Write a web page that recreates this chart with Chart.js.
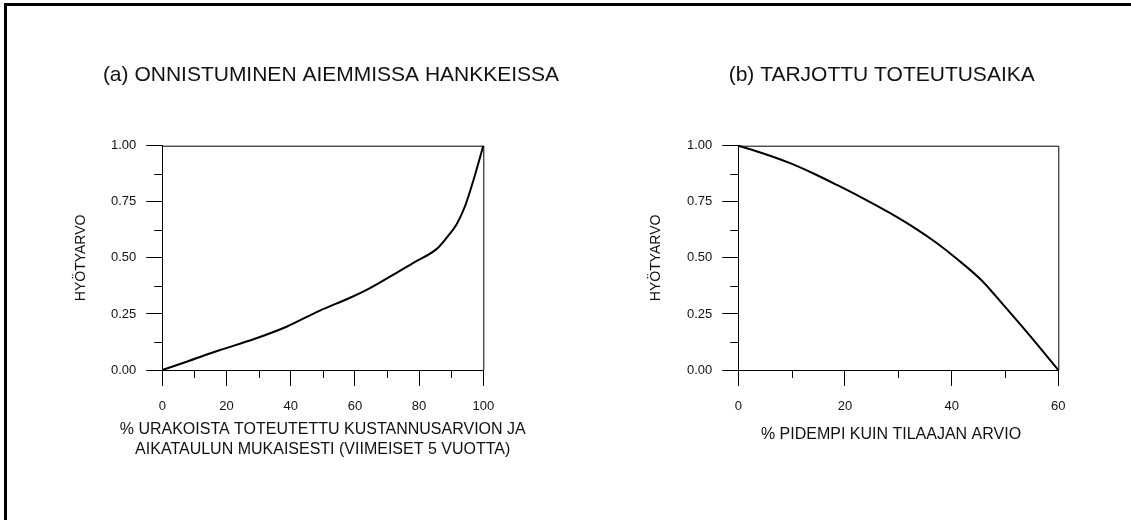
<!DOCTYPE html>
<html>
<head>
<meta charset="utf-8">
<script src="https://cdn.jsdelivr.net/npm/chart.js@4.4.1/dist/chart.umd.min.js"></script>
<style>
  html, body { margin: 0; padding: 0; background: #fff; }
  #page { position: relative; width: 1131px; height: 520px; overflow: hidden; background: #fff; }
  #frame { position: absolute; left: 4px; top: 3px; width: 1300px; height: 700px;
           border-top: 3px solid #000; border-left: 3px solid #000; }
  #chartA { position: absolute; left: 0; top: 0; }
  #chartB { position: absolute; left: 632px; top: 0; }
</style>
</head>
<body>
<div id="page">
  <div id="frame"></div>
  <canvas id="chartA" width="662" height="520"></canvas>
  <canvas id="chartB" width="499" height="520"></canvas>
</div>
<script>
// (a) utility vs. share of past contracts delivered on budget and schedule
const successPct = [0, 7.6, 18, 28.4, 38.7, 49.1, 58.5, 64.7, 72, 78.2, 85.5, 88.6, 91.7, 94.3, 96.9, 100];
const successUtility = [0, 0.037, 0.089, 0.137, 0.193, 0.265, 0.322, 0.365, 0.425, 0.478, 0.540, 0.590, 0.650, 0.730, 0.845, 1.0];

// (b) utility vs. offered duration compared with the client's estimate
const overrunPct = [0, 4.7, 9.7, 14.1, 18.4, 23.4, 28.4, 33.4, 37.2, 40.9, 45.6, 49.7, 54.7, 60];
const overrunUtility = [1.0, 0.965, 0.922, 0.876, 0.826, 0.765, 0.700, 0.628, 0.566, 0.497, 0.400, 0.290, 0.152, 0];

// Axis ranges and tick spacing
const yMajorStep = 0.25;
const yMinorTicks = [0.125, 0.375, 0.625, 0.875];
const xMaxA = 100, xStepA = 20, xMinorA = [10, 30, 50, 70, 90];
const xMaxB = 60, xStepB = 20, xMinorB = [10, 30, 50];

// Text
const titleA = '(a) ONNISTUMINEN AIEMMISSA HANKKEISSA';
const titleB = '(b) TARJOTTU TOTEUTUSAIKA';
const xTitleA = ['% URAKOISTA TOTEUTETTU KUSTANNUSARVION JA', 'AIKATAULUN MUKAISESTI (VIIMEISET 5 VUOTTA)'];
const xTitleB = ['% PIDEMPI KUIN TILAAJAN ARVIO'];
const yTitle = 'HYÖTYARVO';

const FONT = '"Liberation Sans", Arial, Helvetica, sans-serif';
const INK = '#111';

Chart.defaults.font.family = FONT;
Chart.defaults.color = INK;

// Frame on top/right of the plot area plus the short minor tick marks
const boxAndMinorTicks = {
  id: 'boxAndMinorTicks',
  afterDraw(chart, args, opts) {
    const { ctx, chartArea: a, scales } = chart;
    ctx.save();
    ctx.strokeStyle = '#000';
    ctx.lineWidth = 1;
    ctx.beginPath();
    ctx.moveTo(a.left, a.top + 0.5);
    ctx.lineTo(a.right + 0.5, a.top + 0.5);
    ctx.lineTo(a.right + 0.5, a.bottom);
    ctx.stroke();
    ctx.beginPath();
    for (const v of opts.yMinor) {
      const py = Math.round(scales.y.getPixelForValue(v)) + 0.5;
      ctx.moveTo(a.left - 8, py);
      ctx.lineTo(a.left, py);
    }
    for (const v of opts.xMinor) {
      const px = Math.round(scales.x.getPixelForValue(v)) + 0.5;
      ctx.moveTo(px, a.bottom);
      ctx.lineTo(px, a.bottom + 8);
    }
    ctx.stroke();
    ctx.restore();
  }
};

// Panel heading and the (possibly wide, multi-line) x-axis caption
const captions = {
  id: 'captions',
  afterDraw(chart, args, opts) {
    const { ctx } = chart;
    ctx.save();
    ctx.fillStyle = INK;
    ctx.textAlign = 'center';
    ctx.textBaseline = 'middle';
    ctx.font = `21px ${FONT}`;
    ctx.fillText(opts.heading, opts.headingX, opts.headingY);
    ctx.font = `16px ${FONT}`;
    opts.caption.forEach((line, i) => {
      ctx.fillText(line, opts.captionX, opts.captionY + i * opts.captionLine);
    });
    ctx.restore();
  }
};

function makeChart(canvasId, cfg) {
  const points = cfg.xs.map((x, i) => ({ x: x, y: cfg.ys[i] }));
  return new Chart(document.getElementById(canvasId), {
    type: 'line',
    data: {
      datasets: [{
        data: points,
        borderColor: '#000',
        borderWidth: 2,
        pointRadius: 0,
        cubicInterpolationMode: 'monotone',
        fill: false,
        clip: false
      }]
    },
    plugins: [boxAndMinorTicks, captions],
    options: {
      responsive: false,
      animation: false,
      devicePixelRatio: 1,
      layout: { padding: { left: 0, top: 145.7, right: cfg.padRight, bottom: 50 } },
      plugins: {
        legend: { display: false },
        tooltip: { enabled: false },
        title: { display: false },
        boxAndMinorTicks: { yMinor: yMinorTicks, xMinor: cfg.xMinor },
        captions: cfg.captions
      },
      scales: {
        x: {
          type: 'linear',
          min: 0,
          max: cfg.xMax,
          afterFit: s => { s.height = 100; },
          ticks: { stepSize: cfg.xStep, padding: 13, color: INK, font: { size: 13 } },
          grid: { drawOnChartArea: false, drawTicks: true, tickLength: 16, tickColor: '#000', tickWidth: 1 },
          border: { display: true, color: '#000', width: 1 },
          title: { display: false }
        },
        y: {
          type: 'linear',
          min: 0,
          max: 1,
          afterFit: s => { s.width = cfg.yAxisWidth; },
          ticks: { stepSize: yMajorStep, padding: 10, color: INK, font: { size: 13 },
                   callback: v => Number(v).toFixed(2) },
          grid: { drawOnChartArea: false, drawTicks: true, tickLength: 16, tickColor: '#000', tickWidth: 1 },
          border: { display: true, color: '#000', width: 1 },
          title: {
            display: true,
            text: yTitle,
            color: INK,
            font: { size: 14, lineHeight: 1.2 },
            padding: { top: cfg.yTitlePad, bottom: 0 }
          }
        }
      }
    }
  });
}

makeChart('chartA', {
  xs: successPct, ys: successUtility,
  xMax: xMaxA, xStep: xStepA, xMinor: xMinorA,
  yAxisWidth: 162.3, yTitlePad: 72.6,
  padRight: 662 - 483.3,
  captions: { heading: titleA, headingX: 331, headingY: 75,
              caption: xTitleA, captionX: 322.7, captionY: 430, captionLine: 20 }
});

makeChart('chartB', {
  xs: overrunPct, ys: overrunUtility,
  xMax: xMaxB, xStep: xStepB, xMinor: xMinorB,
  yAxisWidth: 738.3 - 632, yTitlePad: 15.6,
  padRight: 499 - (1058.3 - 632),
  captions: { heading: titleB, headingX: 881.7 - 632, headingY: 75,
              caption: xTitleB, captionX: 891 - 632, captionY: 435, captionLine: 20 }
});
</script>
</body>
</html>
